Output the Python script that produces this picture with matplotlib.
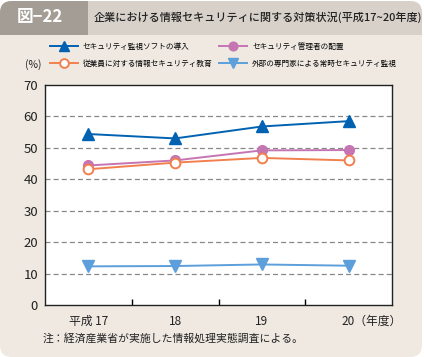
import matplotlib
matplotlib.use("Agg")
import matplotlib.pyplot as plt
from matplotlib.patches import FancyBboxPatch, Rectangle
import matplotlib.transforms as mtransforms

plt.rcParams['font.family'] = ['Noto Sans CJK JP', 'DejaVu Sans']

# data
years = ['平成 17', '18', '19', '20']
kanshi = [54.4, 53.0, 56.8, 58.5]        # セキュリティ監視ソフトの導入
kanrisha = [44.4, 46.0, 49.2, 49.3]      # セキュリティ管理者の配置
kyoiku = [43.2, 45.3, 46.8, 46.0]        # 従業員に対する情報セキュリティ教育
gaibu = [12.3, 12.4, 12.9, 12.5]         # 外部の専門家による常時セキュリティ監視
yticks = [0, 10, 20, 30, 40, 50, 60, 70]

W, H = 4.24, 3.57
fig = plt.figure(figsize=(W, H), dpi=100)
fig.patch.set_facecolor('white')

# background panel
px = 1 / 100
hdr_h = 35 * px
body_c, hdr_c, box_c = '#efe9e2', '#d7d1ca', '#a39d95'


def add(p):
    p.set_zorder(-5)
    fig.patches.append(p)


add(FancyBboxPatch((0.0, 0.0), W - 2 * px, H - 1 * px,
                   boxstyle="round,pad=0,rounding_size=0.12",
                   transform=fig.dpi_scale_trans, fc=body_c, ec='none'))
add(FancyBboxPatch((0.0, H - hdr_h), W - 2 * px, hdr_h - 1 * px,
                   boxstyle="round,pad=0,rounding_size=0.12",
                   transform=fig.dpi_scale_trans, fc=hdr_c, ec='none'))
add(Rectangle((0.0, H - hdr_h), W - 2 * px, 0.15,
              transform=fig.dpi_scale_trans, fc=hdr_c, ec='none'))
add(FancyBboxPatch((0.0, H - hdr_h), 88 * px, hdr_h - 1 * px,
                   boxstyle="round,pad=0,rounding_size=0.12",
                   transform=fig.dpi_scale_trans, fc=box_c, ec='none'))
add(Rectangle((0.5, H - hdr_h), 88 * px - 0.5, hdr_h - 1 * px,
              transform=fig.dpi_scale_trans, fc=box_c, ec='none'))
add(Rectangle((0.0, H - hdr_h), 88 * px, 0.15,
              transform=fig.dpi_scale_trans, fc=box_c, ec='none'))

fig.text(40 / 424, 1 - 17 / 357, '図−22', color='white', fontsize=12,
         fontweight='bold', ha='center', va='center')
fig.text(258 / 424, 1 - 17 / 357,
         '企業における情報セキュリティに関する対策状況(平成17~20年度)',
         color='#222222', fontsize=8.0, fontweight='medium', ha='center', va='center')

ax = fig.add_axes([45 / 424, 52 / 357, 347 / 424, 220 / 357])
ax.set_facecolor('white')
x = list(range(len(years)))

ax.plot(x, kanshi, color='#0062b1', lw=1.4, marker='^', ms=8,
        label='セキュリティ監視ソフトの導入', zorder=5)
ax.plot(x, kyoiku, color='#f2804e', lw=1.4, marker='o', ms=7, mfc='white',
        mew=1.4, label='従業員に対する情報セキュリティ教育', zorder=4)
ax.plot(x, kanrisha, color='#c675b3', lw=1.4, marker='o', ms=7,
        label='セキュリティ管理者の配置', zorder=3)
ax.plot(x, gaibu, color='#5c9fdb', lw=1.4, marker='v', ms=8,
        label='外部の専門家による常時セキュリティ監視', zorder=5)

ax.set_xlim(-0.5, 3.5)
ax.set_ylim(0, 70)
ax.set_yticks(yticks)
for v in yticks[1:-1]:
    ax.axhline(v, color='#888888', lw=0.9, ls=(0, (4, 2.5)), zorder=1)
ax.tick_params(axis='y', length=0, pad=5, labelsize=9.5, labelcolor='#222222')
ax.set_xticks(x)
ax.set_xticklabels(['平成 17', '18', '19', '20（年度）'])
ax.tick_params(axis='x', which='major', length=0, pad=7, labelsize=8.5, labelcolor='#222222')
ax.set_xticks([0.5, 1.5, 2.5], minor=True)
ax.tick_params(axis='x', which='minor', direction='in', length=4, width=1)
lab = ax.get_xticklabels()[-1]
lab.set_ha('left')
lab.set_transform(lab.get_transform() + mtransforms.ScaledTranslation(-7 / 100, 0, fig.dpi_scale_trans))
for s in ax.spines.values():
    s.set_linewidth(1.0)
    s.set_color('#222222')

handles, labels = ax.get_legend_handles_labels()
leg = fig.legend(handles, labels, ncol=2, loc='upper left',
                 bbox_to_anchor=(47 / 424, 1 - 40 / 357), frameon=False,
                 fontsize=5.5, handlelength=3.6, handletextpad=0.7,
                 columnspacing=0.9, labelspacing=1.15, markerscale=0.9,
                 borderaxespad=0)
fig.text(33 / 424, 1 - 65 / 357, '(%)', fontsize=7.5, ha='center', va='center', color='#222222')

fig.text(43 / 424, 1 - 338 / 357, '注：経済産業省が実施した情報処理実態調査による。',
         fontsize=7.8, ha='left', va='center', color='#222222')

fig.savefig('out.png', dpi=100)
